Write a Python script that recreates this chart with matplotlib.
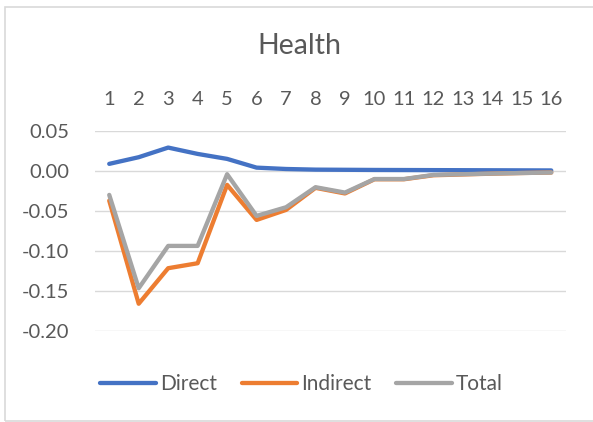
import matplotlib
matplotlib.use("Agg")
import matplotlib.pyplot as plt
from matplotlib.patches import Rectangle

plt.rcParams['font.family'] = ['Lato', 'DejaVu Sans']

categories = [str(i) for i in range(1, 17)]
direct = [0.0084, 0.0167, 0.0287, 0.0208, 0.0146, 0.0037, 0.0020, 0.0012,
          0.0010, 0.0008, 0.0007, 0.0006, 0.0005, 0.0004, 0.0003, 0.0002]
indirect = [-0.0374, -0.1660, -0.1217, -0.1155, -0.0178, -0.0615, -0.0490, -0.0215,
            -0.0285, -0.0108, -0.0108, -0.0058, -0.0048, -0.0038, -0.0030, -0.0024]
total = [-0.0303, -0.1467, -0.0939, -0.0939, -0.0045, -0.0565, -0.0457, -0.0207,
         -0.0274, -0.0105, -0.0105, -0.0054, -0.0045, -0.0037, -0.0030, -0.0024]
yticks = [0.05, 0.00, -0.05, -0.10, -0.15, -0.20]
series_names = ["Direct", "Indirect", "Total"]
colors = ["#4472C4", "#ED7D31", "#A5A5A5"]

W, H = 593, 422
fig = plt.figure(figsize=(W / 100, H / 100), dpi=100)
fig.patches.append(Rectangle((4.5 / W, 1.0 / H), 600 / W, 414.5 / H, transform=fig.transFigure,
                             fill=False, edgecolor="#D9D9D9", linewidth=1.2))

ax = fig.add_axes([94.5 / W, 1 - 331 / H, (566 - 94.5) / W, (331 - 130.5) / H])
x = list(range(len(categories)))
for vals, name, c in zip([direct, indirect, total], series_names, colors):
    ax.plot(x, vals, color=c, lw=3.1, label=name, solid_capstyle='round',
            solid_joinstyle='round')

ax.set_xlim(-0.5, len(categories) - 0.5)
ax.set_ylim(-0.20, 0.05)
ax.set_yticks(yticks)
ax.set_yticklabels([f"{v:.2f}" for v in yticks])
ax.set_xticks(x)
ax.set_xticklabels(categories)
ax.xaxis.tick_top()
ax.tick_params(axis='both', length=0, labelsize=14.5, labelcolor="#595959")
ax.tick_params(axis='y', pad=18)
ax.tick_params(axis='x', pad=16)
ax.grid(axis='y', color="#D9D9D9", lw=1)
ax.set_axisbelow(True)
for s in ax.spines.values():
    s.set_visible(False)

fig.text(299 / W, 1 - 46 / H, "Health", ha='center', va='center', fontsize=20.5,
         color="#595959")

leg = fig.legend(loc='center', bbox_to_anchor=(301.5 / W, 1 - 384 / H), ncol=3, frameon=False,
                 fontsize=15, labelcolor="#595959", handlelength=2.65, handletextpad=0.2,
                 columnspacing=1.2)
for lh in leg.get_lines():
    lh.set_linewidth(3.1)
    lh.set_solid_capstyle('round')

fig.savefig("out.png", dpi=100)
